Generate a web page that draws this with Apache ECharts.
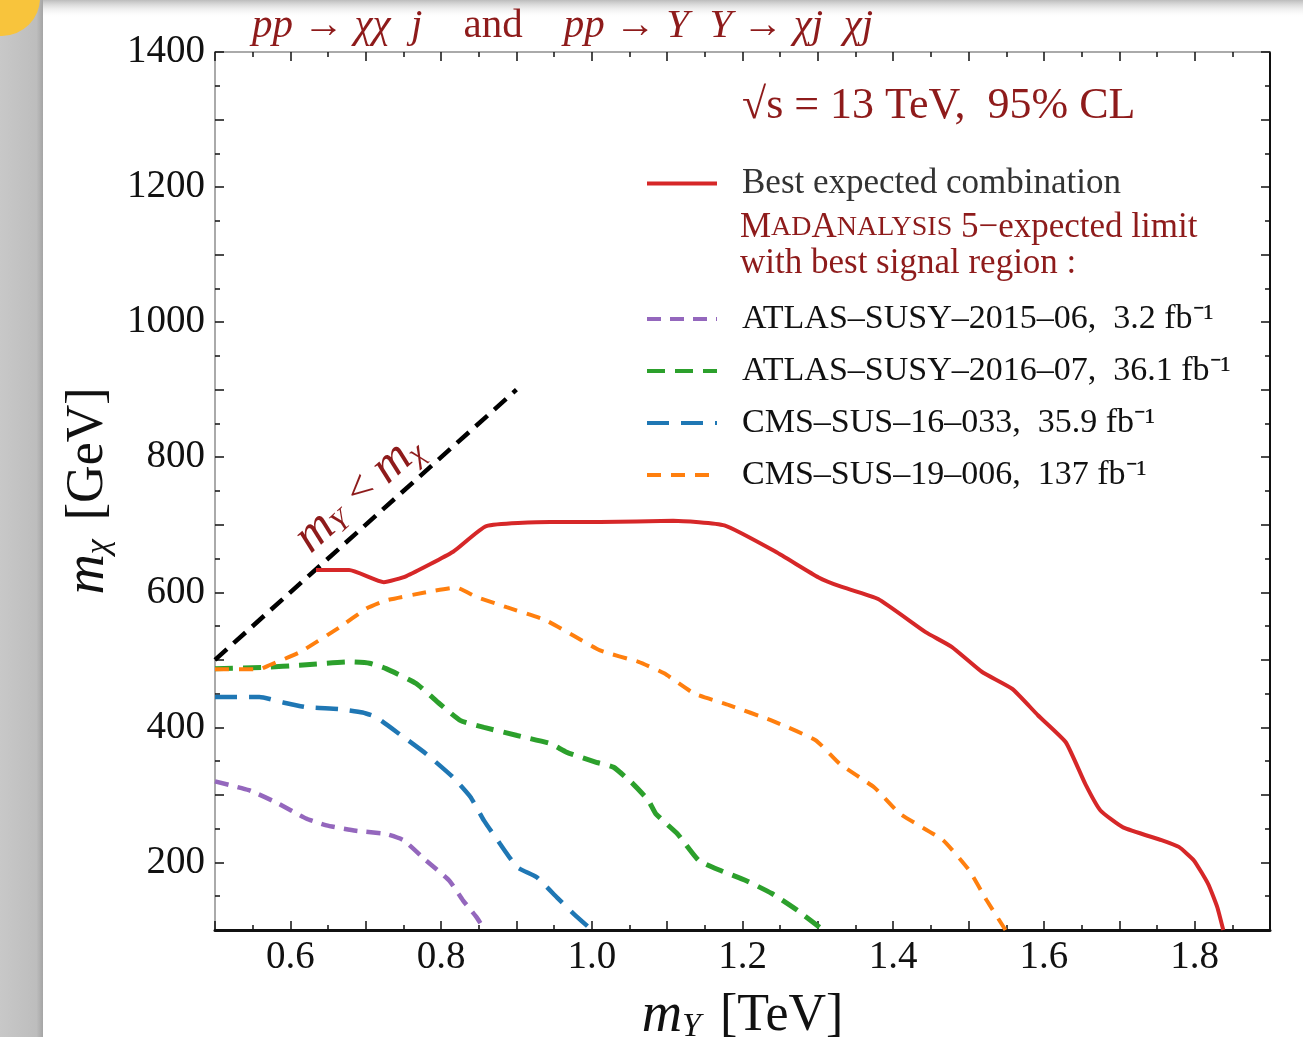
<!DOCTYPE html>
<html>
<head>
<meta charset="utf-8">
<script src="https://cdn.jsdelivr.net/npm/echarts@6/dist/echarts.min.js"></script>
<style>
  html, body { margin: 0; padding: 0; background: #fff; }
  #chart { width: 1303px; height: 1037px; }
</style>
</head>
<body>
<div id="chart"></div>
<script>
// limit contours, m_Y in TeV, m_chi in GeV
const redX = [0.634, 0.678, 0.724, 0.754, 0.816, 0.860, 0.945, 1.011, 1.108, 1.176, 1.244, 1.301, 1.329, 1.380, 1.443, 1.478, 1.518, 1.558, 1.592, 1.629, 1.655, 1.675, 1.705, 1.756, 1.779, 1.799, 1.818, 1.830, 1.838]
const redY = [633, 633, 615, 624, 660, 698, 704, 704, 706, 699, 660, 622, 609, 590, 541, 519, 482, 457, 418, 378, 316, 277, 252, 233, 223, 203, 168, 134, 100]

const purpleX = [0.5, 0.545, 0.581, 0.621, 0.648, 0.687, 0.727, 0.750, 0.780, 0.811, 0.829, 0.847, 0.858]
const purpleY = [320, 307, 289, 265, 255, 247, 242, 233, 203, 173, 144, 119, 100]

const greenX = [0.5, 0.568, 0.612, 0.678, 0.705, 0.727, 0.767, 0.798, 0.826, 0.857, 0.901, 0.945, 0.967, 1.007, 1.029, 1.055, 1.075, 1.085, 1.114, 1.142, 1.171, 1.205, 1.239, 1.273, 1.307]
const greenY = [487, 489, 492, 497, 495, 487, 465, 435, 410, 400, 388, 376, 363, 348, 341, 316, 292, 272, 242, 203, 188, 173, 154, 129, 100]

const blueX = [0.5, 0.559, 0.590, 0.621, 0.665, 0.696, 0.714, 0.745, 0.780, 0.816, 0.839, 0.857, 0.878, 0.901, 0.927, 0.954, 0.976, 1.0]
const blueY = [445, 445, 437, 430, 427, 422, 415, 390, 361, 326, 297, 262, 228, 193, 178, 148, 124, 100]

const orangeX = [0.5, 0.559, 0.572, 0.612, 0.665, 0.701, 0.727, 0.780, 0.820, 0.847, 0.887, 0.940, 1.011, 1.062, 1.096, 1.136, 1.182, 1.239, 1.297, 1.329, 1.375, 1.409, 1.466, 1.501, 1.524, 1.549]
const orangeY = [486, 486, 492, 511, 548, 576, 588, 600, 607, 593, 578, 558, 514, 497, 480, 450, 433, 410, 381, 346, 311, 272, 233, 188, 144, 100]

// kinematic boundary m_Y = m_chi
const diagX = [0.5, 0.9]
const diagY = [500, 900]

const seriesNames = [
  'Best expected combination',
  'ATLAS\u2013SUSY\u20132015\u201306,  3.2 fb\u207B\u00B9',
  'ATLAS\u2013SUSY\u20132016\u201307,  36.1 fb\u207B\u00B9',
  'CMS\u2013SUS\u201316\u2013033,  35.9 fb\u207B\u00B9',
  'CMS\u2013SUS\u201319\u2013006,  137 fb\u207B\u00B9'
]

const SERIF = 'Liberation Serif'
const DARKRED = '#8e1b1b'

function pairs(xs, ys) {
  return xs.map((x, i) => [x, ys[i]])
}

const chart = echarts.init(document.getElementById('chart'))

const tickStyle = { color: '#111', width: 1.5 }
const titleRich = {
  i: { fontFamily: SERIF, fontStyle: 'italic', fontSize: 56, color: '#111' },
  s: { fontFamily: SERIF, fontStyle: 'italic', fontSize: 34, color: '#111', verticalAlign: 'bottom', padding: [16, 6, 0, 0] }
}

const option = {
  backgroundColor: '#ffffff',
  animation: false,
  grid: { left: 215, right: 33, top: 52, bottom: 107, outerBoundsMode: 'none' },
  xAxis: [
    {
      type: 'value', min: 0.5, max: 1.9, interval: 0.1,
      name: '{i|m}{s|Y} [TeV]',
      nameLocation: 'middle', nameGap: 58,
      nameTextStyle: { fontFamily: SERIF, fontSize: 52, color: '#111', rich: titleRich },
      axisLine: { lineStyle: { color: '#111', width: 3 } },
      axisTick: { inside: true, length: 9, lineStyle: tickStyle },
      minorTick: { show: true, splitNumber: 2, length: 5, lineStyle: tickStyle },
      splitLine: { show: false },
      axisLabel: {
        margin: 8, fontFamily: SERIF, fontSize: 39, color: '#111',
        formatter: v => Math.round(v * 10) % 2 === 0 ? v.toFixed(1) : ''
      }
    },
    {
      type: 'value', min: 0.5, max: 1.9, interval: 0.1, position: 'top',
      axisLine: { lineStyle: { color: '#aaa', width: 2 } },
      axisTick: { inside: true, length: 9, lineStyle: tickStyle },
      minorTick: { show: true, splitNumber: 2, length: 5, lineStyle: tickStyle },
      splitLine: { show: false },
      axisLabel: { show: false }
    }
  ],
  yAxis: [
    {
      type: 'value', min: 100, max: 1400, interval: 100,
      name: '{i|m}{s|\u03C7} [GeV]',
      nameLocation: 'middle', nameGap: 96, nameRotate: 90,
      nameTextStyle: { fontFamily: SERIF, fontSize: 52, color: '#111', rich: titleRich },
      axisLine: { lineStyle: { color: '#aaa', width: 2 } },
      axisTick: { inside: true, length: 9, lineStyle: tickStyle },
      minorTick: { show: true, splitNumber: 2, length: 5, lineStyle: tickStyle },
      splitLine: { show: false },
      axisLabel: {
        margin: 10, fontFamily: SERIF, fontSize: 39, color: '#111',
        formatter: v => v % 200 === 0 ? String(v) : ''
      }
    },
    {
      type: 'value', min: 100, max: 1400, interval: 100, position: 'right',
      axisLine: { lineStyle: { color: '#111', width: 2 } },
      axisTick: { inside: true, length: 9, lineStyle: tickStyle },
      minorTick: { show: true, splitNumber: 2, length: 5, lineStyle: tickStyle },
      splitLine: { show: false },
      axisLabel: { show: false }
    }
  ],
  legend: [
    {
      data: [seriesNames[0]],
      left: 645, top: 166, padding: 0,
      itemWidth: 70, itemHeight: 16,
      itemStyle: { opacity: 0 },
      lineStyle: { width: 4 },
      textStyle: { fontFamily: SERIF, fontSize: 35, color: '#333', padding: [0, 0, 0, 20] }
    },
    {
      data: seriesNames.slice(1),
      orient: 'vertical',
      left: 645, top: 302, padding: 0,
      itemWidth: 70, itemHeight: 16, itemGap: 18,
      itemStyle: { opacity: 0 },
      lineStyle: { width: 4 },
      textStyle: { fontFamily: SERIF, fontSize: 34, lineHeight: 32, color: '#111', padding: [0, 0, 0, 20] }
    }
  ],
  graphic: [
    // screenshot margins
    {
      type: 'rect', left: 0, top: 0, z: -10, silent: true,
      shape: { width: 43, height: 1037 },
      style: { fill: new echarts.graphic.LinearGradient(0, 0, 1, 0, [
        { offset: 0, color: '#c8c8c8' }, { offset: 0.85, color: '#bdbdbd' }, { offset: 1, color: '#a5a5a5' }
      ]) }
    },
    {
      type: 'rect', left: 43, top: 0, z: -10, silent: true,
      shape: { width: 1260, height: 18 },
      style: { fill: new echarts.graphic.LinearGradient(0, 0, 0, 1, [
        { offset: 0, color: '#bcbcbc' }, { offset: 1, color: 'rgba(255,255,255,0)' }
      ]) }
    },
    {
      type: 'circle', z: -5, silent: true,
      shape: { cx: 2, cy: -2, r: 38 },
      style: { fill: '#f8c43c' }
    },
    {
      type: 'text', left: 252, top: 6,
      style: {
        text: '{i|pp} {a|\u2192} {i|\u03C7\u03C7  j}    and    {i|pp} {a|\u2192} {i|Y  Y} {a|\u2192} {i|\u03C7j  \u03C7j}',
        fontFamily: SERIF, fontSize: 41, fill: DARKRED,
        rich: {
          i: { fontFamily: SERIF, fontStyle: 'italic', fontSize: 41, color: DARKRED },
          a: { fontFamily: SERIF, fontSize: 41, color: DARKRED }
        }
      }
    },
    {
      type: 'text', left: 742, top: 84,
      style: {
        text: '\u221As = 13 TeV,  95% CL',
        fontFamily: SERIF, fontSize: 44, fill: DARKRED
      }
    },
    {
      type: 'text', left: 740, top: 210,
      style: {
        text: '{b|M}{c|AD}{b|A}{c|NALYSIS} 5\u2212expected limit\nwith best signal region :',
        fontFamily: SERIF, fontSize: 35, fill: DARKRED, lineHeight: 36,
        rich: {
          b: { fontFamily: SERIF, fontSize: 35, color: DARKRED, lineHeight: 36 },
          c: { fontFamily: SERIF, fontSize: 28, color: DARKRED, lineHeight: 36 }
        }
      }
    },
    {
      type: 'text', x: 360, y: 492, rotation: 42 * Math.PI / 180,
      style: {
        text: '{i|m}{s|Y} < {i|m}{s|\u03C7}',
        fontFamily: SERIF, fontSize: 44, fill: DARKRED, align: 'center', verticalAlign: 'middle',
        rich: {
          i: { fontFamily: SERIF, fontStyle: 'italic', fontSize: 50, color: DARKRED },
          s: { fontFamily: SERIF, fontStyle: 'italic', fontSize: 30, color: DARKRED, verticalAlign: 'bottom', padding: [14, 4, 0, 0] }
        }
      }
    }
  ],
  series: [
    {
      name: seriesNames[0], type: 'line', smooth: 0.15, showSymbol: false, symbol: 'none',
      data: pairs(redX, redY), z: 5,
      lineStyle: { color: '#d62728', width: 4 }, itemStyle: { color: '#d62728' }
    },
    {
      name: seriesNames[1], type: 'line', smooth: 0.15, showSymbol: false, symbol: 'none',
      data: pairs(purpleX, purpleY),
      lineStyle: { color: '#9467bd', width: 4.5, type: [14, 9] }, itemStyle: { color: '#9467bd' }
    },
    {
      name: seriesNames[2], type: 'line', smooth: 0.15, showSymbol: false, symbol: 'none',
      data: pairs(greenX, greenY),
      lineStyle: { color: '#2ca02c', width: 5, type: [18, 10] }, itemStyle: { color: '#2ca02c' }
    },
    {
      name: seriesNames[3], type: 'line', smooth: 0.15, showSymbol: false, symbol: 'none',
      data: pairs(blueX, blueY),
      lineStyle: { color: '#1f77b4', width: 4.5, type: [22, 12] }, itemStyle: { color: '#1f77b4' }
    },
    {
      name: seriesNames[4], type: 'line', smooth: 0.15, showSymbol: false, symbol: 'none',
      data: pairs(orangeX, orangeY),
      lineStyle: { color: '#ff7f0e', width: 4, type: [14, 10] }, itemStyle: { color: '#ff7f0e' }
    },
    {
      name: 'diag', type: 'line', showSymbol: false, symbol: 'none',
      data: pairs(diagX, diagY), z: 4,
      lineStyle: { color: '#000', width: 4.5, type: [16, 9] }
    }
  ]
}

chart.setOption(option)

window.addEventListener('resize', () => {
  chart.resize()
})
</script>
</body>
</html>
